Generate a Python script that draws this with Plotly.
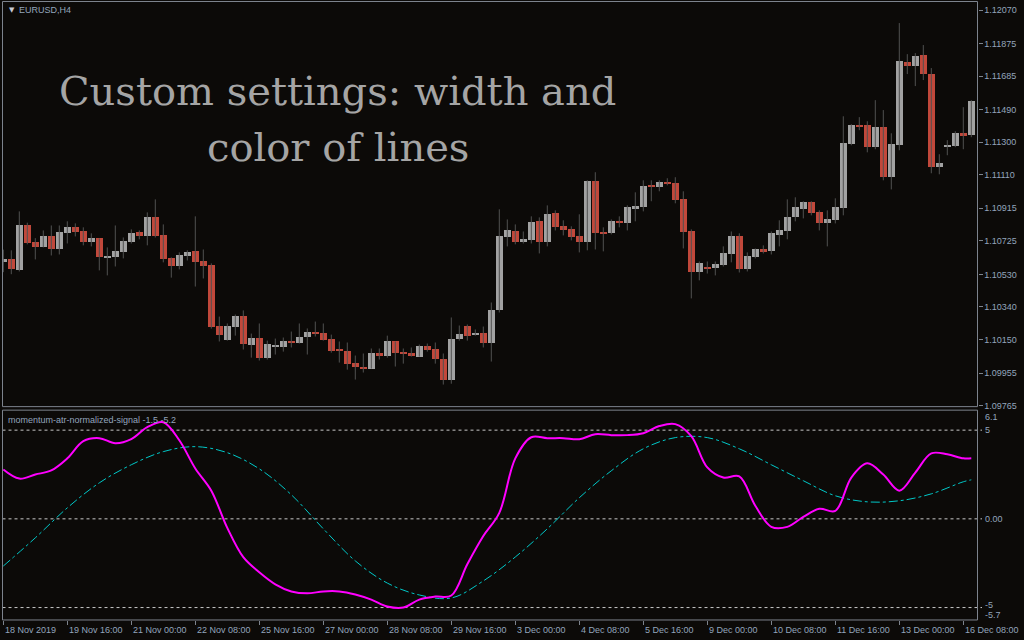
import plotly.graph_objects as go

# ---- EURUSD H4 bars (bar index 0 = 18 Nov 2019 08:00) ----
opens = [1.10607, 1.10617, 1.10553, 1.10815, 1.10716, 1.10687, 1.10751, 1.10675, 1.10769, 1.10804,
         1.10780, 1.10716, 1.10740, 1.10630, 1.10629, 1.10658, 1.10716, 1.10775, 1.10751, 1.10862,
         1.10757, 1.10623, 1.10576, 1.10635, 1.10664, 1.10605, 1.10582, 1.10232, 1.10150, 1.10226,
         1.10290, 1.10121, 1.10162, 1.10045, 1.10111, 1.10109, 1.10144, 1.10133, 1.10168, 1.10197,
         1.10191, 1.10156, 1.10092, 1.10086, 1.10016, 1.09993, 1.09981, 1.10074, 1.10057, 1.10139,
         1.10080, 1.10074, 1.10051, 1.10115, 1.10098, 1.10039, 1.09917, 1.10156, 1.10232, 1.10179,
         1.10191, 1.10133, 1.10320, 1.10745, 1.10780, 1.10716, 1.10728, 1.10839, 1.10716, 1.10886,
         1.10810, 1.10792, 1.10751, 1.10716, 1.11072, 1.10775, 1.10769, 1.10839, 1.10827, 1.10915,
         1.10921, 1.11049, 1.11037, 1.11066, 1.11061, 1.10967, 1.10780, 1.10541, 1.10570, 1.10565,
         1.10582, 1.10646, 1.10751, 1.10559, 1.10629, 1.10675, 1.10664, 1.10757, 1.10780, 1.10862,
         1.10909, 1.10950, 1.10891, 1.10827, 1.10845, 1.10915, 1.11288, 1.11399, 1.11399, 1.11271,
         1.11387, 1.11096, 1.11282, 1.11767, 1.11743, 1.11807, 1.11697, 1.11154, 1.11276, 1.11276,
         1.11352, 1.11341]
highs = [1.10674, 1.10670, 1.10897, 1.10831, 1.10741, 1.10786, 1.10815, 1.10815, 1.10839, 1.10827,
         1.10804, 1.10769, 1.10740, 1.10687, 1.10815, 1.10745, 1.10792, 1.10786, 1.10891, 1.10967,
         1.10821, 1.10629, 1.10658, 1.10670, 1.10868, 1.10675, 1.10594, 1.10284, 1.10244, 1.10296,
         1.10320, 1.10185, 1.10244, 1.10144, 1.10156, 1.10162, 1.10197, 1.10244, 1.10215, 1.10255,
         1.10244, 1.10179, 1.10139, 1.10133, 1.10057, 1.10069, 1.10098, 1.10098, 1.10173, 1.10139,
         1.10098, 1.10104, 1.10121, 1.10127, 1.10133, 1.10069, 1.10279, 1.10232, 1.10238, 1.10209,
         1.10226, 1.10366, 1.10909, 1.10850, 1.10821, 1.10780, 1.10868, 1.10862, 1.10932, 1.10903,
         1.10845, 1.10810, 1.10880, 1.11078, 1.11125, 1.10804, 1.10850, 1.10868, 1.10932, 1.11008,
         1.11078, 1.11078, 1.11078, 1.11090, 1.11096, 1.11014, 1.10792, 1.10605, 1.10605, 1.10605,
         1.10693, 1.10780, 1.10769, 1.10658, 1.10681, 1.10699, 1.10780, 1.10845, 1.10967, 1.10979,
         1.10956, 1.10956, 1.10903, 1.10903, 1.10973, 1.11451, 1.11405, 1.11446, 1.11422, 1.11545,
         1.11487, 1.11352, 1.11994, 1.11813, 1.11819, 1.11866, 1.11732, 1.11230, 1.11312, 1.11364,
         1.11504, 1.11545]
lows = [1.10543, 1.10531, 1.10547, 1.10705, 1.10617, 1.10687, 1.10640, 1.10646, 1.10710, 1.10751,
        1.10699, 1.10693, 1.10553, 1.10524, 1.10576, 1.10623, 1.10710, 1.10734, 1.10699, 1.10745,
        1.10600, 1.10511, 1.10559, 1.10611, 1.10459, 1.10506, 1.10214, 1.10139, 1.10144, 1.10173,
        1.10092, 1.10045, 1.10028, 1.10034, 1.10063, 1.10080, 1.10104, 1.10127, 1.10063, 1.10168,
        1.10144, 1.10074, 1.10016, 1.09975, 1.09917, 1.09958, 1.09981, 1.10034, 1.10045, 1.09993,
        1.10010, 1.10051, 1.10051, 1.10080, 1.10010, 1.09888, 1.09893, 1.10144, 1.10144, 1.10173,
        1.10104, 1.10022, 1.10308, 1.10693, 1.10705, 1.10710, 1.10710, 1.10652, 1.10693, 1.10786,
        1.10757, 1.10728, 1.10658, 1.10670, 1.10675, 1.10664, 1.10763, 1.10804, 1.10786, 1.10839,
        1.10897, 1.10956, 1.11014, 1.11049, 1.10944, 1.10681, 1.10390, 1.10495, 1.10535, 1.10524,
        1.10576, 1.10600, 1.10541, 1.10547, 1.10623, 1.10652, 1.10646, 1.10693, 1.10734, 1.10839,
        1.10856, 1.10874, 1.10786, 1.10693, 1.10827, 1.10874, 1.11282, 1.11370, 1.11241, 1.11259,
        1.11078, 1.11025, 1.11253, 1.11697, 1.11627, 1.11662, 1.11119, 1.11113, 1.11224, 1.11271,
        1.11259, 1.11329]
closes = [1.10617, 1.10559, 1.10815, 1.10712, 1.10687, 1.10751, 1.10675, 1.10775, 1.10804, 1.10775,
          1.10716, 1.10740, 1.10629, 1.10635, 1.10664, 1.10722, 1.10769, 1.10751, 1.10862, 1.10751,
          1.10617, 1.10576, 1.10640, 1.10658, 1.10600, 1.10576, 1.10226, 1.10179, 1.10232, 1.10290,
          1.10127, 1.10162, 1.10045, 1.10127, 1.10115, 1.10144, 1.10133, 1.10168, 1.10197, 1.10185,
          1.10150, 1.10086, 1.10086, 1.10010, 1.09993, 1.09981, 1.10069, 1.10057, 1.10139, 1.10074,
          1.10069, 1.10057, 1.10115, 1.10092, 1.10039, 1.09917, 1.10156, 1.10185, 1.10173, 1.10191,
          1.10133, 1.10325, 1.10751, 1.10786, 1.10716, 1.10734, 1.10833, 1.10716, 1.10880, 1.10804,
          1.10786, 1.10745, 1.10716, 1.11072, 1.10769, 1.10769, 1.10839, 1.10827, 1.10921, 1.10926,
          1.11043, 1.11037, 1.11066, 1.11061, 1.10961, 1.10775, 1.10541, 1.10594, 1.10565, 1.10588,
          1.10652, 1.10751, 1.10559, 1.10635, 1.10675, 1.10664, 1.10769, 1.10786, 1.10862, 1.10921,
          1.10950, 1.10886, 1.10827, 1.10850, 1.10921, 1.11294, 1.11399, 1.11393, 1.11271, 1.11387,
          1.11096, 1.11288, 1.11772, 1.11743, 1.11802, 1.11697, 1.11154, 1.11177, 1.11282, 1.11352,
          1.11341, 1.11539]

# ---- indicator window: momentum (magenta) and its signal (cyan) ----
mom_bars = list(range(0, 121, 2)) + [121]
mom_vals = [2.78, 2.27, 2.50, 2.73, 3.41, 4.38, 4.55, 4.26, 4.49, 5.17,
            5.45, 4.43, 2.84, 1.59, -0.51, -2.16, -3.01, -3.69, -4.09, -4.20,
            -4.09, -4.09, -4.26, -4.55, -4.94, -5.00, -4.55, -4.38, -4.32, -2.56,
            -0.97, 0.34, 3.41, 4.60, 4.55, 4.55, 4.49, 4.77, 4.72, 4.72,
            4.83, 5.23, 5.34, 4.66, 2.90, 2.33, 2.39, 0.74, -0.45, -0.45,
            0.11, 0.57, 0.45, 2.33, 3.13, 2.50, 1.59, 2.61, 3.69, 3.64,
            3.41, 3.41]
sig_bars = list(range(0, 121, 4)) + [121]
sig_vals = [-2.66, -1.07, 0.62, 2.03, 3.05, 3.79, 4.07, 3.73, 2.82, 1.36,
            -0.56, -2.37, -3.62, -4.29, -4.46, -3.50, -2.15, -0.56, 1.19, 2.71,
            3.95, 4.58, 4.58, 3.95, 3.05, 2.15, 1.30, 0.96, 1.02, 1.41,
            2.09, 2.20]
levels = [5, 0, -5]

# ---- axis labels ----
price_ticks = [1.12070, 1.11875, 1.11685, 1.11490, 1.11300, 1.11110, 1.10915,
               1.10725, 1.10530, 1.10340, 1.10150, 1.09955, 1.09765]
time_ticks = list(range(0, 121, 8))
time_labels = ["18 Nov 2019", "19 Nov 16:00", "21 Nov 00:00", "22 Nov 08:00",
               "25 Nov 16:00", "27 Nov 00:00", "28 Nov 08:00", "29 Nov 16:00",
               "3 Dec 00:00", "4 Dec 08:00", "5 Dec 16:00", "9 Dec 00:00",
               "10 Dec 08:00", "11 Dec 16:00", "13 Dec 00:00", "16 Dec 08:00"]

W, H = 1024, 640
H_LAYOUT = 635.0          # vertical layout unit used for paper positions
BG = "#0c0a08"
FRAME = "#7d838d"
TXT = "#93a5bc"
BULL = "#a2a2a2"
BEAR = "#c1483b"
WICK = "#505050"
LABEL_FONT = dict(family="Liberation Sans, Arial, sans-serif", size=9, color=TXT)


def px_x(p):
    return p / W


def px_y(p):
    return 1 - p / H_LAYOUT


n = len(opens)
idx = list(range(n))

# wicks as one broken line, bodies as bars drawn over them
wx, wy = [], []
for i in idx:
    wx += [i, i, None]
    wy += [lows[i], highs[i], None]

body_base = [min(o, c) for o, c in zip(opens, closes)]
body_len = [max(abs(c - o), 0.00006) for o, c in zip(opens, closes)]
body_col = [BULL if c >= o else BEAR for o, c in zip(opens, closes)]

fig = go.Figure()
fig.add_trace(go.Scatter(x=wx, y=wy, mode="lines", line=dict(color=WICK, width=1),
                         xaxis="x2", yaxis="y", hoverinfo="skip", showlegend=False))
fig.add_trace(go.Bar(x=idx, y=body_len, base=body_base, width=0.875,
                     marker=dict(color=body_col, line=dict(width=0)),
                     xaxis="x2", yaxis="y", showlegend=False))

fig.add_trace(go.Scatter(x=sig_bars, y=sig_vals, mode="lines", line_shape="spline",
                         line=dict(color="#00c8c8", width=1, dash="dashdot"),
                         xaxis="x", yaxis="y2", showlegend=False))
fig.add_trace(go.Scatter(x=mom_bars, y=mom_vals, mode="lines", line_shape="spline",
                         line=dict(color="#ff00ff", width=2),
                         xaxis="x", yaxis="y2", showlegend=False))

XL, XR = 2.5, 977.5
xrange = [-0.1, -0.1 + (XR - XL) / 8.0]
MAIN_TOP, MAIN_BOT = 2, 406
IND_TOP, IND_BOT = 410, 619
p_top = 1.121284 - 0.00005835 * MAIN_TOP
p_bot = 1.121284 - 0.00005835 * MAIN_BOT

fig.update_layout(
    width=W, height=H,
    margin=dict(l=0, r=0, t=0, b=0),
    paper_bgcolor=BG, plot_bgcolor=BG,
    bargap=0, showlegend=False,
    xaxis=dict(domain=[px_x(XL), px_x(XR)], range=xrange, anchor="y2",
               showgrid=False, zeroline=False, showticklabels=False,
               ticks="outside", tickvals=time_ticks, ticklen=4, tickcolor=FRAME,
               showline=False),
    xaxis2=dict(domain=[px_x(XL), px_x(XR)], range=xrange, anchor="y",
                matches="x", showgrid=False, zeroline=False, showticklabels=False,
                ticks=""),
    yaxis=dict(domain=[px_y(MAIN_BOT), px_y(MAIN_TOP)], range=[p_bot, p_top],
               anchor="x2", side="right", showgrid=False, zeroline=False,
               tickvals=price_ticks, ticktext=[f"{v:.5f}" for v in price_ticks],
               ticks="outside", ticklen=4, tickcolor=FRAME, tickfont=LABEL_FONT),
    yaxis2=dict(domain=[px_y(IND_BOT), px_y(IND_TOP)], range=[-5.7, 6.1],
                anchor="x", side="right", showgrid=False, zeroline=False,
                showticklabels=False, ticks=""),
)

shapes = []
# pane frames
for top, bot in [(1.5, MAIN_BOT), (IND_TOP - 0.5, IND_BOT)]:
    shapes.append(dict(type="rect", xref="paper", yref="paper",
                       x0=px_x(XL), x1=px_x(XR), y0=px_y(bot), y1=px_y(top),
                       line=dict(color=FRAME, width=1), layer="above"))
# indicator levels
for lv in levels:
    shapes.append(dict(type="line", xref="paper", yref="y2",
                       x0=px_x(XL), x1=px_x(982), y0=lv, y1=lv,
                       line=dict(color="#c8c8c8", width=1, dash="3px,3px"), layer="below"))
fig.update_layout(shapes=shapes)

ann = []
for t, lab in zip(time_ticks, time_labels):
    ann.append(dict(x=t, y=px_y(629), xref="x", yref="paper", text=lab, showarrow=False,
                    xanchor="left", yanchor="middle", font=LABEL_FONT))
# indicator scale labels
ann.append(dict(x=px_x(983), y=6.1, xref="paper", yref="y2", text="6.1", showarrow=False,
                xanchor="left", yanchor="top", yshift=1, font=LABEL_FONT))
ann.append(dict(x=px_x(983), y=-5.7, xref="paper", yref="y2", text="-5.7", showarrow=False,
                xanchor="left", yanchor="bottom", yshift=-2, font=LABEL_FONT))
for lv, lab, ys in [(5, "5", 0), (0, "0.00", 0), (-5, "-5", 3)]:
    ann.append(dict(x=px_x(983), y=lv, xref="paper", yref="y2", text=lab, showarrow=False,
                    xanchor="left", yanchor="middle", yshift=ys, font=LABEL_FONT))
# window captions
ann.append(dict(x=px_x(7), y=px_y(10), xref="paper", yref="paper",
                text="\u25bc", showarrow=False, xanchor="left", yanchor="middle",
                font=dict(family="DejaVu Sans", size=7, color="#c8ccd4")))
ann.append(dict(x=px_x(17), y=px_y(10), xref="paper", yref="paper",
                text="EURUSD,H4", showarrow=False, xanchor="left", yanchor="middle",
                font=LABEL_FONT))
ann.append(dict(x=px_x(6), y=px_y(419), xref="paper", yref="paper",
                text="momentum-atr-normalized-signal -1.5 -5.2", showarrow=False,
                xanchor="left", yanchor="middle", font=LABEL_FONT))
# headline text
TITLE_FONT = dict(family="DejaVu Serif, serif", size=40, color="#a5a5a5")
ann.append(dict(x=px_x(337.5), y=px_y(91), xref="paper", yref="paper",
                text="Custom settings: width and", showarrow=False,
                xanchor="center", yanchor="middle", font=TITLE_FONT))
ann.append(dict(x=px_x(337.5), y=px_y(147), xref="paper", yref="paper",
                text="color of lines", showarrow=False,
                xanchor="center", yanchor="middle", font=TITLE_FONT))
fig.update_layout(annotations=ann)

fig.write_html("out.html")
